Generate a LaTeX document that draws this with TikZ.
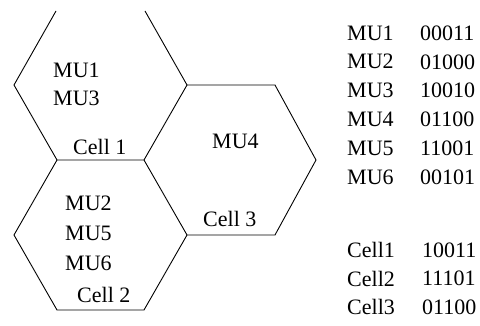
\documentclass[tikz,border=0pt]{standalone}
\usepackage{fontspec}
\setmainfont{Liberation Serif}
\tikzset{
  hexline/.style={line width=0.9pt, line join=miter},
  lbl/.style={anchor=west, inner sep=0pt, font=\fontsize{22}{26}\selectfont},
}
\begin{document}
\begin{tikzpicture}[x=1pt,y=-1pt]
\useasboundingbox (0,0) rectangle (480,326);
% Cell 1 (top cut off)
\draw[hexline] (56,11) -- (14,85) -- (57,160) -- (144,160) -- (187,85) -- (145,11);
% Cell 3
\draw[hexline] (187,85) -- (275,85) -- (316,160) -- (275,235) -- (187,235) -- (144,160);
% Cell 2
\draw[hexline] (57,160) -- (14,235) -- (57,310) -- (144,310) -- (187,235);
% labels in cells
\node[lbl] (mu1) at (53,70) {MU1};
\node[lbl] (mu3) at (53,98) {MU3};
\node[lbl] (c1) at (73,147) {Cell 1};
\node[lbl] (mu4) at (212,141) {MU4};
\node[lbl] (c3) at (203,219) {Cell 3};
\node[lbl] (mu2) at (65,203) {MU2};
\node[lbl] (mu5) at (65,233) {MU5};
\node[lbl] (mu6) at (65,263) {MU6};
\node[lbl] (c2) at (77,295) {Cell 2};
% table
\node[lbl] (t1) at (347,33) {MU1};    \node[lbl] (v1) at (420,33) {00011};
\node[lbl] (t2) at (347,61.8) {MU2};  \node[lbl] (v2) at (420,61.8) {01000};
\node[lbl] (t3) at (347,90.6) {MU3};  \node[lbl] (v3) at (420,90.6) {10010};
\node[lbl] (t4) at (347,119.4) {MU4}; \node[lbl] (v4) at (420,119.4) {01100};
\node[lbl] (t5) at (347,148.2) {MU5}; \node[lbl] (v5) at (420,148.2) {11001};
\node[lbl] (t6) at (347,177) {MU6};   \node[lbl] (v6) at (420,177) {00101};
\node[lbl] (k1) at (347,250) {Cell1}; \node[lbl] (w1) at (422,250) {10011};
\node[lbl] (k2) at (347,278.5) {Cell2}; \node[lbl] (w2) at (422,278.5) {11101};
\node[lbl] (k3) at (347,307) {Cell3}; \node[lbl] (w3) at (422,307) {01100};
\end{tikzpicture}
\end{document}
